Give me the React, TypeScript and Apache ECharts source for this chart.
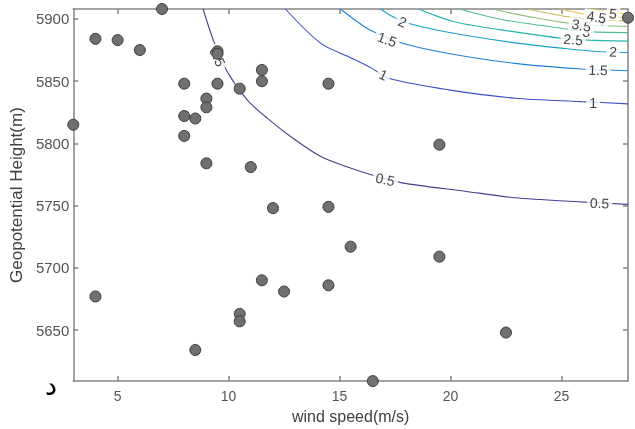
import React, { useEffect, useRef } from "react";
import * as echarts from "echarts";

const xTicks = [5, 10, 15, 20, 25];
const yTicks = [5650, 5700, 5750, 5800, 5850, 5900];

const windSpeed = [7, 4, 5, 6, 3, 8, 9.5, 9.5, 9.5, 10.5, 11.5, 11.5, 9, 9, 8, 8.5, 8, 9, 11, 12, 14.5, 19.5, 14.5, 28, 4, 8.5, 10.5, 10.5, 11.5, 12.5, 15.5, 19.5, 14.5, 22.5, 16.5];
const geoHeight = [5908, 5884, 5883, 5875, 5815, 5848, 5874, 5872, 5848, 5844, 5859, 5850, 5836, 5829, 5822, 5820, 5806, 5784, 5781, 5748, 5848, 5799, 5749, 5901, 5677, 5634, 5663, 5657, 5690, 5681, 5717, 5709, 5686, 5648, 5609];

// contour lines: [wind speed, height]
const contour05 = [[8.85, 5908], [9.34, 5881.6], [9.94, 5857.6], [10.84, 5835], [11.74, 5820.3], [12.79, 5805.6], [14.14, 5789.6], [15.26, 5781.6], [16.39, 5775], [17.81, 5768.3], [20.66, 5761.6], [22.9, 5756.3], [25.9, 5753], [28, 5751]];
const contour1 = [[12.56, 5908], [14.14, 5880.6], [15.41, 5869.6], [16.46, 5860.3], [17.21, 5852.3], [19.91, 5843], [22.91, 5836.3], [25.9, 5833.6], [28, 5831.8]];
const contour15 = [[15.04, 5908], [15.71, 5899], [16.39, 5891], [17.88, 5880.3], [19.91, 5872.3], [22.91, 5864.3], [25.9, 5859.8], [28, 5858.4]];
const contour2 = [[16.84, 5908], [17.43, 5901.6], [18.26, 5895.8], [20.21, 5888.3], [22.91, 5880.8], [25.15, 5876.3], [26.8, 5873.6], [28, 5872.8]];
const contour25 = [[18.56, 5908], [20.21, 5897.6], [22.91, 5889.6], [25.08, 5884.3], [26.2, 5883], [28, 5882.2]];
const contour3 = [[20.4, 5908], [22.2, 5900], [24.2, 5894.5], [26.13, 5890], [28, 5889]];
const contour35 = [[21.9, 5908], [23.8, 5901], [25.9, 5895.5], [28, 5894]];
const contour4 = [[23.5, 5908], [25.2, 5902], [26.8, 5899.3], [28, 5898.5]];
const contour45 = [[25, 5908], [26.58, 5902.2], [28, 5901.3]];
const contour5 = [[26.3, 5908], [27.33, 5905], [28, 5904.2]];

const contourLevels = ["0.5", "1", "1.5", "2", "2.5", "3", "3.5", "4", "4.5", "5"];
const contourLines = [contour05, contour1, contour15, contour2, contour25, contour3, contour35, contour4, contour45, contour5];
const contourColors = ["#434190", "#3a4fc6", "#1f80d4", "#17a2c8", "#2ab5b0", "#50bd98", "#8cc07a", "#c8bc5a", "#e8c040", "#f2d830"];

// inline contour labels
const labelText = ["0.5", "0.5", "0.5", "1", "1", "1.5", "1.5", "2", "2", "2.5", "3", "3.5", "4", "4.5", "5"];
const labelX = [9.5, 17.06, 26.72, 16.98, 26.43, 17.14, 26.65, 17.84, 27.33, 25.53, 26.13, 25.9, 26.8, 26.58, 27.33];
const labelY = [5869.5, 5771, 5752, 5855, 5832.3, 5883.5, 5859, 5897.6, 5873.6, 5883.5, 5889.6, 5894.9, 5899, 5901.6, 5904.3];
const labelAngle = [-65, -12, -2, -25, 0, -20, -2, -22, -3, -5, -8, -10, -8, -8, -5];

const FONT = "'Liberation Sans', Arial, sans-serif";

export default function App() {
  const ref = useRef<HTMLDivElement>(null);
  useEffect(() => {
    if (!ref.current) return;
    const chart = echarts.init(ref.current, undefined, { renderer: "svg" });
    const axisLineStyle = { color: "#858585", width: 1.5 };
    const series: any[] = contourLines.map((pts, i) => ({
      type: "line",
      name: contourLevels[i],
      data: pts,
      smooth: 0.3,
      showSymbol: false,
      symbol: "none",
      lineStyle: { color: contourColors[i], width: 1.1 },
      z: 2,
      silent: true,
    }));
    series.push({
      type: "scatter",
      symbolSize: 0,
      z: 3,
      data: labelText.map((t, i) => ({
        name: t,
        value: [labelX[i], labelY[i]],
        label: { rotate: labelAngle[i] },
      })),
      label: {
        show: true,
        position: "inside",
        formatter: (p: any) => p.name,
        fontFamily: FONT,
        fontSize: 14,
        color: "#111",
        backgroundColor: "#ffffff",
        padding: [0, 3],
      },
    });
    series.push({
      type: "scatter",
      z: 5,
      symbol: "circle",
      symbolSize: 11,
      data: windSpeed.map((w, i) => [w, geoHeight[i]]),
      itemStyle: { color: "#707070", borderColor: "#3a3a3a", borderWidth: 1, opacity: 1 },
    });

    chart.setOption({
      animation: false,
      grid: { left: 72, right: 7, top: 9, bottom: 46, containLabel: false },
      xAxis: [
        {
          type: "value",
          min: 3,
          max: 28,
          name: "wind speed(m/s)",
          nameLocation: "middle",
          nameGap: 26,
          nameTextStyle: { fontFamily: FONT, fontSize: 16, color: "#404040" },
          axisLine: { show: true, onZero: false, lineStyle: axisLineStyle },
          axisTick: { show: true, inside: true, length: 5, customValues: xTicks, lineStyle: axisLineStyle },
          axisLabel: { customValues: xTicks, fontFamily: FONT, fontSize: 14, color: "#555", margin: 8, formatter: (v: number) => String(v) },
          splitLine: { show: false },
        },
        {
          type: "value",
          position: "top",
          min: 3,
          max: 28,
          axisLine: { show: true, onZero: false, lineStyle: axisLineStyle },
          axisTick: { show: true, inside: true, length: 5, customValues: xTicks, lineStyle: axisLineStyle },
          axisLabel: { show: false },
          splitLine: { show: false },
        },
      ],
      yAxis: [
        {
          type: "value",
          min: 5609,
          max: 5908,
          name: "Geopotential Height(m)",
          nameLocation: "middle",
          nameRotate: 90,
          nameGap: 42,
          nameTextStyle: { fontFamily: FONT, fontSize: 17, color: "#404040" },
          axisLine: { show: true, onZero: false, lineStyle: axisLineStyle },
          axisTick: { show: true, inside: true, length: 5, customValues: yTicks, lineStyle: axisLineStyle },
          axisLabel: { customValues: yTicks, fontFamily: FONT, fontSize: 15, color: "#555", margin: 4, formatter: (v: number) => String(v) },
          splitLine: { show: false },
        },
        {
          type: "value",
          position: "right",
          min: 5609,
          max: 5908,
          axisLine: { show: true, onZero: false, lineStyle: axisLineStyle },
          axisTick: { show: true, inside: true, length: 5, customValues: yTicks, lineStyle: axisLineStyle },
          axisLabel: { show: false },
          splitLine: { show: false },
        },
      ],
      graphic: [
        {
          type: "text",
          left: 45,
          top: 372,
          style: { text: "د", fontSize: 27, fontFamily: "'DejaVu Sans', sans-serif", fill: "#000" },
        },
      ],
      series,
    });
    return () => chart.dispose();
  }, []);
  return <div ref={ref} style={{ position: "fixed", left: 0, top: 0, width: 635, height: 429 }} />;
}
